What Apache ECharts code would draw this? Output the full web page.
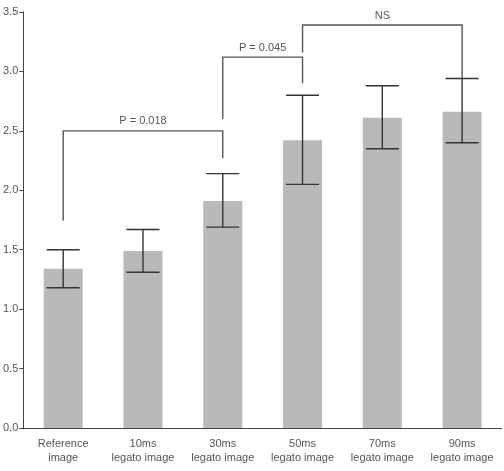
<!DOCTYPE html>
<html><head><meta charset="utf-8">
<script src="https://cdn.jsdelivr.net/npm/echarts@6/dist/echarts.min.js"></script>
<style>html,body{margin:0;padding:0;background:#fff}#c{width:504px;height:471px}</style>
</head><body><div id="c"></div>
<script>
const categories = ['Reference\nimage','10ms\nlegato image','30ms\nlegato image','50ms\nlegato image','70ms\nlegato image','90ms\nlegato image'];
const means = [1.34, 1.49, 1.91, 2.42, 2.61, 2.66];
const errLow = [1.18, 1.31, 1.69, 2.05, 2.35, 2.40];
const errHigh = [1.50, 1.67, 2.14, 2.80, 2.88, 2.94];
const yTicks = [0, 0.5, 1.0, 1.5, 2.0, 2.5, 3.0, 3.5];
const bracketFrom = [0, 2, 3];
const bracketTo = [2, 3, 5];
const bracketTop = [2.5, 3.12, 3.39];
const bracketLeftFoot = [1.745, 2.60, 3.16];
const bracketRightFoot = [2.27, 2.90, 2.94];
const bracketLabels = ['P = 0.018', 'P = 0.045', 'NS'];

const FONT = "'Liberation Sans', Arial, sans-serif";
const chart = echarts.init(document.getElementById('c'), null, {renderer:'canvas'});
const errData = means.map((m,i)=>[i, errLow[i], errHigh[i]]);
const brData = bracketFrom.map((f,i)=>[f, bracketTo[i], bracketTop[i], bracketLeftFoot[i], bracketRightFoot[i], i]);
chart.setOption({
  animation:false,
  grid:{left:23,right:2,top:12,bottom:43,containLabel:false},
  xAxis:{type:'category',data:categories,
    axisLine:{lineStyle:{color:'#444',width:1}},axisTick:{show:false},
    axisLabel:{color:'#555',fontFamily:FONT,fontSize:11,lineHeight:14,margin:9,interval:0}},
  yAxis:{type:'value',min:yTicks[0],max:yTicks[yTicks.length-1],interval:0.5,
    splitLine:{show:false},
    axisLine:{show:true,lineStyle:{color:'#444',width:1}},
    axisTick:{show:true,length:4,lineStyle:{color:'#444'}},
    axisLabel:{color:'#555',fontFamily:FONT,fontSize:11,margin:5,formatter:v=>v.toFixed(1)}},
  series:[
    {type:'bar',data:means,barWidth:39,itemStyle:{color:'#b9b9b9'},z:1},
    {type:'custom',data:errData,encode:{x:0,y:[1,2]},z:3,
      renderItem:(params,api)=>{
        const x=api.value(0);
        const lo=api.coord([x,api.value(1)]);
        const hi=api.coord([x,api.value(2)]);
        const hw=16.5;
        const st={stroke:'#333',lineWidth:1.4};
        return {type:'group',children:[
          {type:'line',shape:{x1:lo[0],y1:lo[1],x2:hi[0],y2:hi[1]},style:st},
          {type:'line',shape:{x1:lo[0]-hw,y1:lo[1],x2:lo[0]+hw,y2:lo[1]},style:st},
          {type:'line',shape:{x1:hi[0]-hw,y1:hi[1],x2:hi[0]+hw,y2:hi[1]},style:st}
        ]};
      }},
    {type:'custom',data:brData,encode:{x:[0,1],y:[2,3,4]},z:4,
      renderItem:(params,api)=>{
        const a=api.value(0), b=api.value(1);
        const lt=api.coord([a,api.value(2)]);
        const lf=api.coord([a,api.value(3)]);
        const rt=api.coord([b,api.value(2)]);
        const rf=api.coord([b,api.value(4)]);
        const st={stroke:'#555',lineWidth:1.4,fill:null};
        return {type:'group',children:[
          {type:'polyline',shape:{points:[lf,lt,rt,rf]},style:st},
          {type:'text',style:{text:bracketLabels[api.value(5)],x:(lt[0]+rt[0])/2,y:lt[1]-4,
            align:'center',verticalAlign:'bottom',fill:'#555',font:'11px '+FONT}}
        ]};
      }}
  ]
});
</script></body></html>
